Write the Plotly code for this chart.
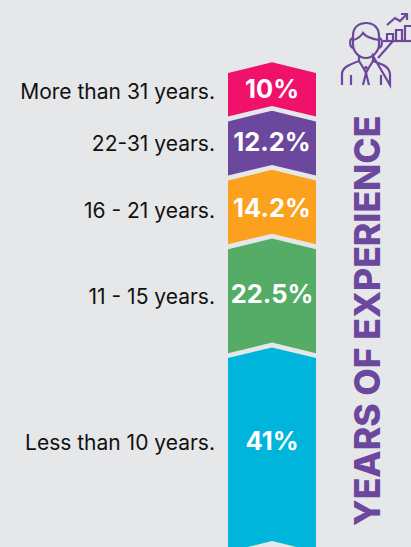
import numpy as np
import plotly.graph_objects as go

# ---- data (top of the ribbon first) ----
categories = ["More than 31 years.", "22-31 years.", "16 - 21 years.", "11 - 15 years.", "Less than 10 years."]
shares = [10, 12.2, 14.2, 22.5, 41]
share_labels = ["10%", "12.2%", "14.2%", "22.5%", "41%"]
title_text = "YEARS OF EXPERIENCE"

# ---- style ----
colors = ["#F0116A", "#6B489D", "#FBA11E", "#54AC67", "#00B5DB"]
BG = "#E6E7E9"
PURPLE = "#6B489D"
W, H = 411, 547
PX_PER_UNIT = 4.84
TOP_PX = 73
LEFT, RIGHT = 228, 316
MID = (LEFT + RIGHT) / 2
APEX = 2.2      # chevron depth, value units
GAP = 1.0       # gap between bands, value units
LABEL_X = 215
FONT = "Inter"
pct_nudge = [2.5, 1, 3.5, 1, -5.5]     # optical label adjustment, px
cat_nudge = [4.5, 3, 5.5, 2.5, -4.5]

tops = np.concatenate([[0], np.cumsum(shares)[:-1]])
bottoms = tops + np.array(shares) - GAP
mids = (tops + bottoms) / 2 - APEX / 2

fig = go.Figure()
for top, bottom, col in zip(tops, bottoms, colors):
    fig.add_trace(go.Scatter(
        x=[LEFT, MID, RIGHT, RIGHT, MID, LEFT, LEFT],
        y=[top, top - APEX, top, bottom, bottom - APEX, bottom, top],
        mode="lines", fill="toself", fillcolor=col, line=dict(width=0),
        hoverinfo="skip", showlegend=False))

fig.add_trace(go.Scatter(
    x=[MID] * len(shares), y=mids + np.array(pct_nudge) / PX_PER_UNIT,
    text=share_labels, mode="text", textposition="middle center",
    textfont=dict(family=FONT, size=25.5, color="white", weight="bold"),
    hoverinfo="skip", showlegend=False))
fig.add_trace(go.Scatter(
    x=[LABEL_X] * len(shares), y=mids + np.array(cat_nudge) / PX_PER_UNIT,
    text=categories, mode="text", textposition="middle left",
    textfont=dict(family=FONT, size=21, color="#111111"),
    hoverinfo="skip", showlegend=False))

# ---- icon (decoration, drawn in pixel space on hidden y2) ----
icon_paths = [
    "M353,36 C353,26 360,23 366,23 C373,23 379,27 379,36 L379,44 C379,52 372,58 366,58 C359,58 353,52 353,44 Z",
    "M353,40 C358,39 361,36 363,33 C366,37 372,39 379,40",
    "M353,38 C349,38 349,48 354,48",
    "M379,38 C383,38 383,48 378,48",
    "M342,85 L342,74 C342,68 348,65 359,61 L359,56 M373,56 L373,61 C378,63 382,64 385,66 C388,68 390,71 390,75 L390,85 Z",
    "M351,85 L351,75",
    "M381,85 L381,75",
    "M359,61 L364,69 L366,67 L368,69 L373,61",
    "M364,69 L366,73 L368,69",
    "M366,73 L363,85 M366,73 L369,85",
    "M378,58 L393,41",
    "M383,41 L411,41",
    "M387,41 L387,34 L393,34 L393,41",
    "M396,41 L396,30 L402,30 L402,41",
    "M405,41 L405,26 L411,26",
    "M387,25 L395,18 L400,21 L406,15",
    "M401,14 L407,14 L407,20",
]
shapes = [dict(type="path", path=p, xref="x", yref="y2",
               line=dict(color=PURPLE, width=2.2), layer="above") for p in icon_paths]

fig.update_layout(
    width=W, height=H, margin=dict(l=0, r=0, t=0, b=0),
    paper_bgcolor=BG, plot_bgcolor=BG, showlegend=False,
    xaxis=dict(range=[0, W], visible=False, fixedrange=True),
    yaxis=dict(range=[(H - TOP_PX) / PX_PER_UNIT, -TOP_PX / PX_PER_UNIT], visible=False, fixedrange=True),
    yaxis2=dict(range=[H, 0], overlaying="y", visible=False, fixedrange=True),
    shapes=shapes,
    annotations=[dict(
        text=title_text, textangle=-90, x=367, y=321, xref="x", yref="y2",
        showarrow=False, xanchor="center", yanchor="middle",
        font=dict(family=FONT, size=35.5, color=PURPLE, weight=800))],
)
fig.add_trace(go.Scatter(x=[None], y=[None], yaxis="y2", hoverinfo="skip", showlegend=False))

fig.write_html("out.html", config=dict(displayModeBar=False),
               post_script=f"document.body.style.margin='0';document.body.style.overflow='hidden';document.body.style.background='{BG}';")
